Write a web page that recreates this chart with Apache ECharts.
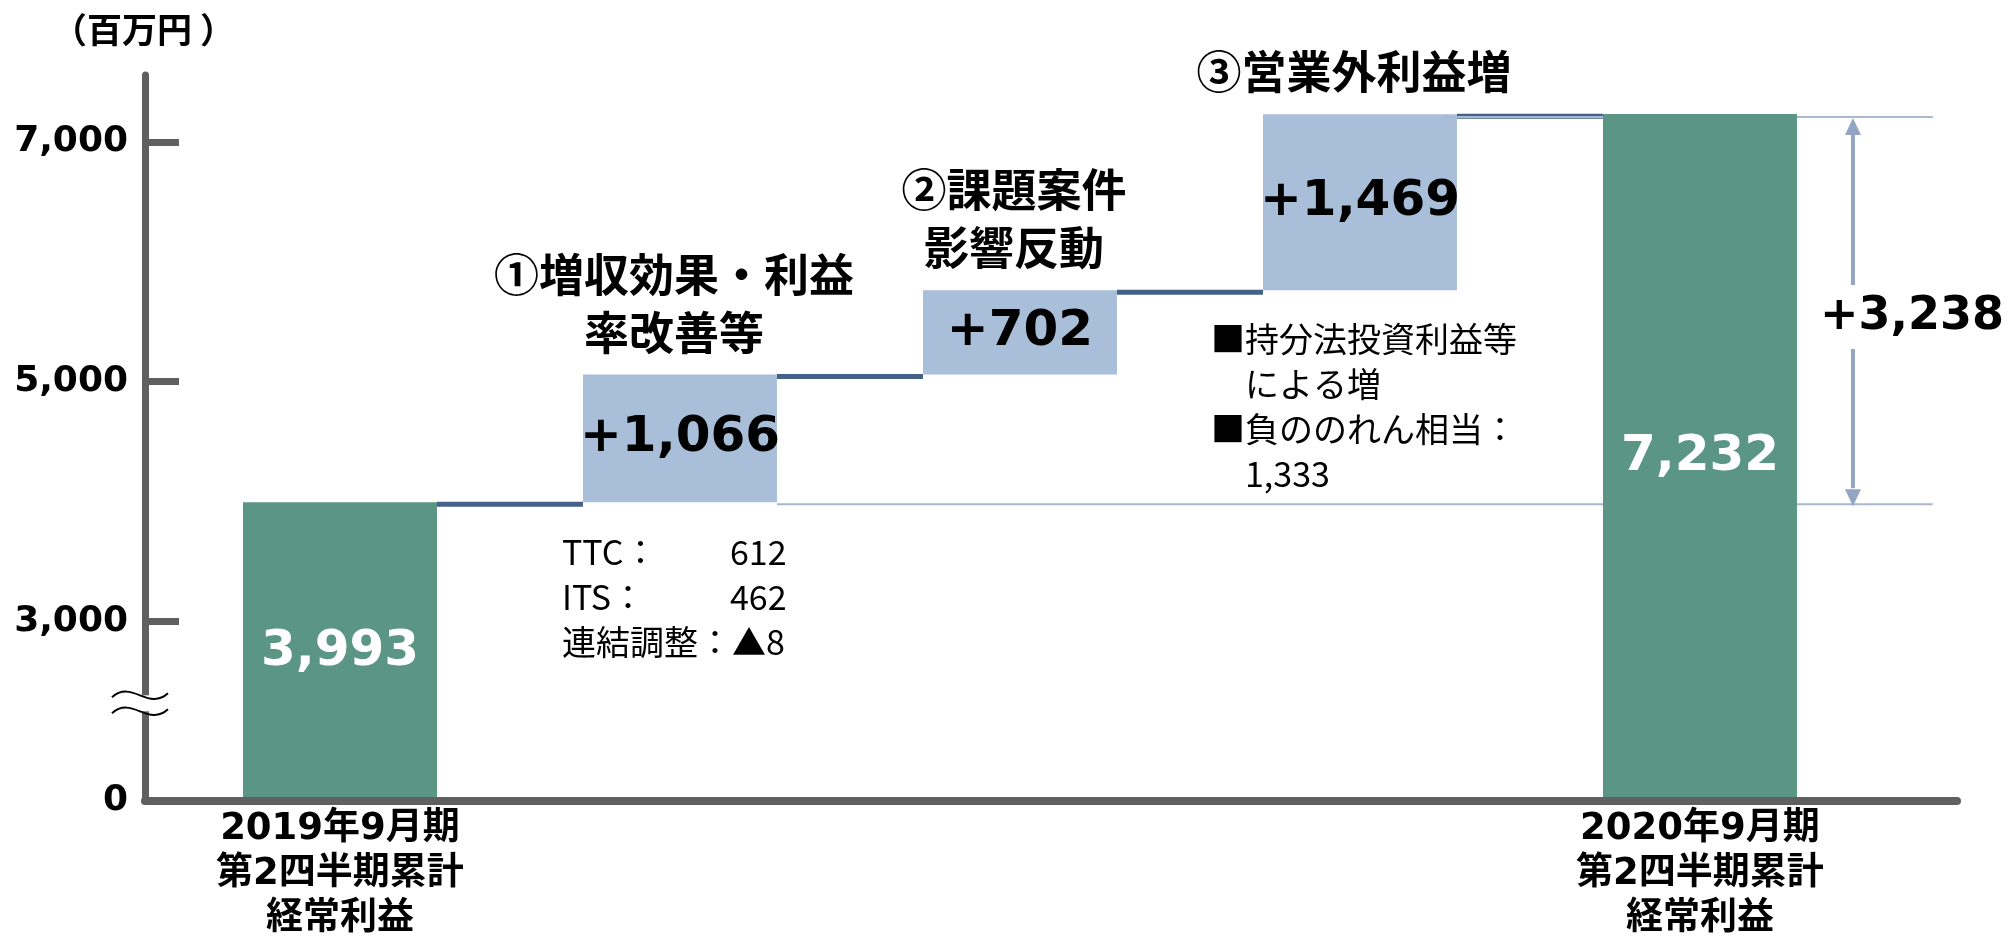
<!DOCTYPE html>
<html>
<head>
<meta charset="utf-8">
<script src="https://cdn.jsdelivr.net/npm/echarts@6/dist/echarts.min.js"></script>
<style>
  html, body { margin: 0; padding: 0; background: #fff; }
  #chart { width: 2010px; height: 936px; }
</style>
</head>
<body>
<div id="chart"></div>
<script>
// 経常利益の増減 (百万円)
const categories = [
  "2019年9月期\n第2四半期累計\n経常利益",
  "①増収効果・利益\n率改善等",
  "②課題案件\n影響反動",
  "③営業外利益増",
  "2020年9月期\n第2四半期累計\n経常利益",
];
const startTotal = 3993;
const deltas = [1066, 702, 1469];
const endTotal = 7232;
const totalChange = 3238;
const yTickValues = [3000, 5000, 7000];
const axisFloor = 1500; // broken axis, bottom is labelled 0
const breakValue = 2315;
const unitLabel = "（百万円 ）";
const breakdownRevenue = [["TTC：", "612"], ["ITS：", "462"], ["連結調整：", "▲8"]];
const breakdownNonOp = ["■持分法投資利益等", "　による増", "■負ののれん相当：", "　1,333"];

const FONT_NUM = '"DejaVu Sans", "Noto Sans CJK JP", sans-serif';
const FONT_JP = '"Noto Sans CJK JP", sans-serif';
const GREEN = "#5a9683";
const BLUE = "#a9bed8";
const LINK = "#45618a";
const REF = "#a9b9d1";
const ARROW = "#93a5c3";
const AXIS = "#606060";
const BAR_W = 194;
const X_MIN = -0.5735;
const X_MAX = 4.756;

const fmt = (v) => v.toLocaleString("en-US");

// rows: [x, low, high, value]
const rows = [[0, axisFloor, startTotal, startTotal]];
let level = startTotal;
deltas.forEach((d, i) => {
  rows.push([i + 1, level, level + d, d]);
  level += d;
});
rows.push([categories.length - 1, axisFloor, endTotal, endTotal]);
const lastIdx = rows.length - 1;

const noteStyle = { fontSize: 34, fontFamily: FONT_JP, fill: "#000", lineHeight: 45 };

function renderItem(params, api) {
  const i = params.dataIndex;
  const x = api.value(0);
  const lo = api.value(1);
  const hi = api.value(2);
  const v = api.value(3);
  const isTotal = i === 0 || i === lastIdx;
  const pBot = api.coord([x, lo]);
  const pTop = api.coord([x, hi]);
  const half = BAR_W / 2;
  const kids = [];

  if (i === lastIdx) {
    const yFrom = api.coord([x, startTotal])[1];
    const xFar = api.coord([x + 0.685, hi])[0];
    const xa = api.coord([x + 0.45, hi])[0];
    kids.push({
      type: "line",
      shape: { x1: api.coord([1, lo])[0] + half, y1: yFrom + 2, x2: xFar, y2: yFrom + 2 },
      style: { stroke: REF, lineWidth: 2 },
    });
    kids.push({
      type: "line",
      shape: { x1: api.coord([x - 1, hi])[0] + half - 14, y1: pTop[1] + 3, x2: xFar, y2: pTop[1] + 3 },
      style: { stroke: REF, lineWidth: 2 },
    });
    kids.push({
      type: "line",
      shape: { x1: xa, y1: pTop[1] + 18, x2: xa, y2: yFrom - 14 },
      style: { stroke: ARROW, lineWidth: 4 },
    });
    kids.push({
      type: "polygon",
      shape: { points: [[xa, pTop[1] + 4], [xa - 8, pTop[1] + 21], [xa + 8, pTop[1] + 21]] },
      style: { fill: ARROW },
    });
    kids.push({
      type: "polygon",
      shape: { points: [[xa, yFrom + 4], [xa - 8, yFrom - 13], [xa + 8, yFrom - 13]] },
      style: { fill: ARROW },
    });
    kids.push({
      type: "text",
      z2: 10,
      style: {
        text: "+" + fmt(totalChange),
        x: xa + 59,
        y: (pTop[1] + yFrom) / 2 + 9,
        align: "center",
        verticalAlign: "middle",
        fontSize: 46,
        fontWeight: "bold",
        fontFamily: FONT_NUM,
        fill: "#000",
        backgroundColor: "#fff",
        padding: [9, 0, 9, 0],
      },
    });
  }

  kids.push({
    type: "rect",
    shape: { x: pTop[0] - half, y: pTop[1], width: BAR_W, height: pBot[1] - pTop[1] },
    style: { fill: isTotal ? GREEN : BLUE },
  });

  kids.push({
    type: "text",
    z2: 5,
    style: {
      text: isTotal ? fmt(v) : "+" + fmt(v),
      x: pTop[0],
      y: (pTop[1] + pBot[1]) / 2,
      align: "center",
      verticalAlign: "middle",
      fontSize: 50,
      fontWeight: "bold",
      fontFamily: FONT_NUM,
      fill: isTotal ? "#fff" : "#000",
    },
  });

  if (i < lastIdx) {
    const nx = api.coord([x + 1, hi])[0] - half;
    kids.push({
      type: "line",
      shape: { x1: pTop[0] + half, y1: pTop[1] + 2, x2: nx, y2: pTop[1] + 2 },
      style: { stroke: LINK, lineWidth: 5 },
    });
  }

  if (!isTotal) {
    kids.push({
      type: "text",
      style: {
        text: categories[i],
        x: pTop[0] - 6,
        y: pTop[1] - 13,
        align: "center",
        verticalAlign: "bottom",
        fontSize: 45,
        fontWeight: "bold",
        fontFamily: FONT_JP,
        lineHeight: 58,
        fill: "#000",
      },
    });
  }

  if (i === 1) {
    const text = breakdownRevenue
      .map(([k, n], j) => (j < 2 ? `{k|${k}}{n|${n}}` : `{n|${k}${n}}`))
      .join("\n");
    kids.push({
      type: "text",
      style: {
        text,
        x: pBot[0] - half - 21,
        y: pBot[1] + 27,
        align: "left",
        verticalAlign: "top",
        ...noteStyle,
        rich: {
          k: { ...noteStyle, width: 168 },
          n: { ...noteStyle },
        },
      },
    });
  }

  if (i === 3) {
    kids.push({
      type: "text",
      style: {
        text: breakdownNonOp.join("\n"),
        x: pBot[0] - half - 52,
        y: pBot[1] + 26,
        align: "left",
        verticalAlign: "top",
        ...noteStyle,
      },
    });
  }

  return { type: "group", children: kids };
}

const chart = echarts.init(document.getElementById("chart"));

chart.setOption({
  animation: false,
  backgroundColor: "#fff",
  title: {
    text: unitLabel,
    left: 52,
    top: 12,
    padding: 0,
    textStyle: { fontSize: 35, fontWeight: "bold", fontFamily: FONT_JP, color: "#000" },
  },
  grid: { left: 145, right: 53, top: 75, bottom: 135, containLabel: false, outerBoundsMode: "none" },
  xAxis: {
    type: "value",
    min: X_MIN,
    max: X_MAX,
    z: 5,
    axisLine: { show: true, onZero: false, lineStyle: { color: AXIS, width: 8 } },
    axisTick: { show: false },
    splitLine: { show: false },
    axisLabel: {
      customValues: [0, categories.length - 1],
      formatter: (val) => categories[Math.round(val)],
      margin: 6,
      fontSize: 37,
      fontWeight: "bold",
      fontFamily: FONT_NUM,
      lineHeight: 45,
      color: "#000",
    },
  },
  yAxis: {
    type: "value",
    min: axisFloor,
    max: 7557,
    z: 5,
    axisLine: { show: true, onZero: false, lineStyle: { color: AXIS, width: 7 } },
    axisTick: {
      show: true,
      inside: true,
      length: 34,
      customValues: yTickValues,
      lineStyle: { color: AXIS, width: 7 },
    },
    splitLine: { show: false },
    axisLabel: {
      customValues: [axisFloor, ...yTickValues],
      formatter: (val) => (val === axisFloor ? "0" : fmt(val)),
      margin: 17,
      fontSize: 36,
      fontWeight: "bold",
      fontFamily: FONT_NUM,
      color: "#000",
    },
  },
  series: [
    {
      type: "custom",
      renderItem,
      data: rows,
      encode: { x: 0, y: [1, 2] },
      clip: false,
      z: 2,
    },
  ],
});

// axis break mark
const bp = chart.convertToPixel({ gridIndex: 0 }, [X_MIN, breakValue]);
const cx = bp[0] - 5;
const wave = (y0) => ({
  type: "bezierCurve",
  z: 100,
  shape: { x1: cx - 28, y1: y0 + 2, cpx1: cx - 8, cpy1: y0 - 16, cpx2: cx + 8, cpy2: y0 + 16, x2: cx + 28, y2: y0 - 2 },
  style: { stroke: "#000", lineWidth: 2, fill: null },
});
chart.setOption({
  graphic: [
    {
      type: "rect",
      z: 99,
      shape: { x: bp[0] - 6, y: bp[1] - 8, width: 12, height: 16 },
      style: { fill: "#fff" },
    },
    wave(bp[1] - 8),
    wave(bp[1] + 8),
  ],
});

window.addEventListener("resize", () => chart.resize());
</script>
</body>
</html>
